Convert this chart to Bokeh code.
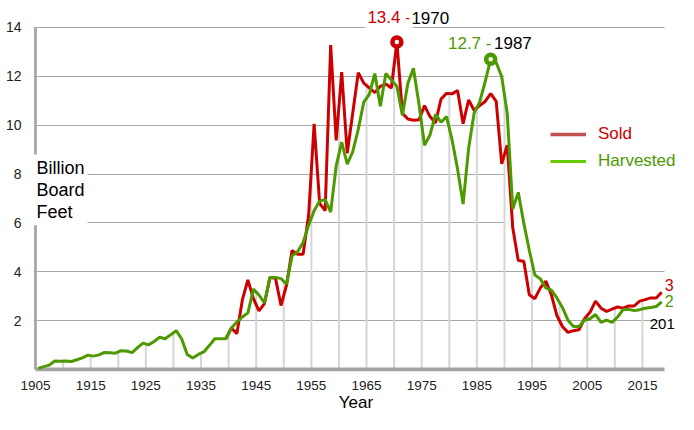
import numpy as np
from bokeh.plotting import figure
from bokeh.models import Range1d, FixedTicker, Label, Legend, LegendItem, BoxAnnotation
from bokeh.embed import file_html
from bokeh.resources import INLINE

# ---------------- data (billion board feet) ----------------
harvest_start = 1905
harvested = [
    0.05, 0.12, 0.18, 0.35, 0.34, 0.35, 0.33, 0.40, 0.48, 0.59,   # 1905-1914
    0.55, 0.60, 0.70, 0.69, 0.67, 0.77, 0.76, 0.69, 0.90, 1.08,   # 1915-1924
    1.01, 1.15, 1.32, 1.26, 1.42, 1.59, 1.25, 0.62, 0.47, 0.62,   # 1925-1934
    0.72, 0.98, 1.26, 1.26, 1.26, 1.70, 1.95, 2.15, 2.32, 3.29,   # 1935-1944
    3.05, 2.73, 3.77, 3.77, 3.72, 3.50, 4.65, 4.82, 5.20, 5.90,   # 1945-1954
    6.50, 6.90, 6.95, 6.44, 8.33, 9.31, 8.40, 8.92, 9.83, 10.94,  # 1955-1964
    11.26, 12.11, 10.77, 12.11, 11.85, 11.59, 10.41, 11.72, 12.33, 10.87,  # 1965-1974
    9.18, 9.60, 10.44, 10.12, 10.35, 9.40, 8.20, 6.77, 9.05, 10.50,  # 1975-1984
    10.94, 11.78, 12.70, 12.56, 11.98, 10.48, 6.57, 7.25, 5.99, 4.88,  # 1985-1994
    3.87, 3.71, 3.34, 3.25, 2.93, 2.54, 2.02, 1.76, 1.76, 2.02,   # 1995-2004
    2.08, 2.25, 1.93, 2.02, 1.93, 2.15, 2.45, 2.47, 2.41, 2.45,   # 2005-2014
    2.51, 2.54, 2.58, 2.77,                                       # 2015-2018
]
sold_start = 1939
sold = [
    1.26,                                                          # 1939
    1.70, 1.47, 2.86, 3.67, 2.90, 2.40, 2.70, 3.77, 3.73, 2.62,   # 1940-1949
    3.45, 4.87, 4.72, 4.72, 6.30, 10.05, 6.80, 6.50, 13.28, 9.38, # 1950-1959
    12.17, 8.85, 10.50, 12.15, 11.72, 11.52, 11.33, 11.59, 11.68, 11.52,  # 1960-1969
    13.40, 10.48, 10.25, 10.20, 10.22, 10.80, 10.35, 10.09, 11.07, 11.30,  # 1970-1979
    11.28, 11.42, 10.06, 11.03, 10.61, 10.80, 10.97, 11.29, 10.97, 8.42,  # 1980-1989
    9.18, 5.80, 4.46, 4.43, 3.06, 2.90, 3.34, 3.62, 3.06, 2.21,   # 1990-1999
    1.76, 1.52, 1.59, 1.63, 2.08, 2.34, 2.80, 2.51, 2.38, 2.47,   # 2000-2009
    2.56, 2.51, 2.60, 2.60, 2.80, 2.86, 2.93, 2.93, 3.16,         # 2010-2018
]
harvest_years = list(range(harvest_start, harvest_start + len(harvested)))
sold_years = list(range(sold_start, sold_start + len(sold)))

y_ticks = [2, 4, 6, 8, 10, 12, 14]
x_tick_labels = ["1905", "1915", "1925", "1935", "1945", "1955",
                 "1965", "1975", "1985", "1995", "2005", "2015"]
end_labels = {"sold": "3", "harvested": "2", "year": "201"}

# ---------------- style ----------------
RED = "#CC0000"
GREEN = "#4C9A00"
FONT = "Liberation Sans"

x0 = harvest_years[0] - 0.5      # category boundaries (Excel-like category axis)
x1 = harvest_years[-1] + 0.5
y_top = max(y_ticks)

XR = Range1d(x0 - 0.36, x1 + 2.54)
YR = Range1d(-0.08, y_top + 1.1)

p = figure(width=678, height=414, output_backend="svg", toolbar_location=None,
           x_range=XR, y_range=YR,
           min_border_left=33, min_border_right=0, min_border_top=0,
           min_border_bottom=40)
p.outline_line_color = None
p.background_fill_color = "white"
p.border_fill_color = "white"

# axes (axis lines drawn as segments so they stop at the data area)
xt = [int(s) - 0.5 for s in x_tick_labels]
p.xaxis.ticker = FixedTicker(ticks=xt)
p.xaxis.major_label_overrides = {t: s for t, s in zip(xt, x_tick_labels)}
p.yaxis.ticker = FixedTicker(ticks=y_ticks)
for ax in (p.xaxis[0], p.yaxis[0]):
    ax.axis_line_color = None
    ax.major_tick_line_color = None
    ax.minor_tick_line_color = None
    ax.major_label_text_font = FONT
    ax.major_label_text_font_size = "14px"
    ax.major_label_text_color = "#222222"
p.xaxis.major_label_text_font_size = "13.5px"
p.xaxis.major_label_standoff = 3
p.yaxis.major_label_standoff = 6
p.xaxis.axis_label = "Year"
p.xaxis.axis_label_text_font = FONT
p.xaxis.axis_label_text_font_size = "17px"
p.xaxis.axis_label_text_font_style = "normal"
p.xaxis.axis_label_text_color = "black"
p.xaxis.axis_label_standoff = 0

p.xgrid.visible = False
p.ygrid.ticker = FixedTicker(ticks=y_ticks)
p.ygrid.grid_line_color = "#A8A8A8"
p.ygrid.grid_line_width = 1.2

# white areas that hide grid lines: right of the data area and behind the legend
p.add_layout(BoxAnnotation(left=x1, right=XR.end, bottom=YR.start, top=YR.end,
                           fill_color="white", fill_alpha=1.0, line_color=None,
                           level="underlay"))
p.add_layout(BoxAnnotation(left=1989.5, right=XR.end, bottom=4.15, top=13.5,
                           fill_color="white", fill_alpha=1.0, line_color=None,
                           level="underlay"))

# drop lines at every 5th category boundary
hy = np.array(harvest_years, dtype=float)
sy = np.array(sold_years, dtype=float)
bounds = np.arange(x0 + 5.0, x1 - 1.0, 5.0)
tops = np.maximum(np.interp(bounds, hy, harvested, left=0, right=0),
                  np.interp(bounds, sy, sold, left=0, right=0))
p.segment(x0=bounds, y0=np.zeros_like(bounds), x1=bounds, y1=tops,
          line_color="#D6D6D6", line_width=2)

# axis lines
p.segment(x0=[x0], y0=[0], x1=[x0], y1=[y_top], line_color="#ABABAB", line_width=3)
p.segment(x0=[x0], y0=[0], x1=[x1], y1=[0], line_color="#A3A3A3", line_width=4)

# series
p.line(sold_years, sold, line_color=RED, line_width=3)
p.line(harvest_years, harvested, line_color=GREEN, line_width=3)

# peak markers
i_s = int(np.argmax(sold))
i_h = int(np.argmax(harvested))
p.scatter([sold_years[i_s]], [sold[i_s]], size=9, line_width=4.5,
          line_color=RED, fill_color="white")
p.scatter([harvest_years[i_h]], [harvested[i_h]], size=9, line_width=4.5,
          line_color=GREEN, fill_color="white")

def lab(x, y, text, color, xo, yo, size="17px", bg=None, align="left"):
    kw = dict(x=x, y=y, text=text, text_color=color, x_offset=xo, y_offset=yo,
              text_font=FONT, text_font_size=size, text_baseline="middle",
              text_align=align)
    if bg:
        kw.update(background_fill_color=bg, background_fill_alpha=1.0, padding=2)
    p.add_layout(Label(**kw))

lab(sold_years[i_s], sold[i_s], f"{sold[i_s]:.1f} -", RED, -31.5, 24.5, bg="white")
lab(sold_years[i_s], sold[i_s], f"{sold_years[i_s]}", "black", 12.5, 24.5, bg="white")
lab(harvest_years[i_h], harvested[i_h], f"{harvested[i_h]:.1f} -", GREEN, -42.7, 16)
lab(harvest_years[i_h], harvested[i_h], f"{harvest_years[i_h]}", "black", 3.3, 16)

# end-of-series labels (cut by the right edge in the original)
lab(sold_years[-1], sold[-1], end_labels["sold"], RED, 3.0, 7.0, size="16px")
lab(harvest_years[-1], harvested[-1], end_labels["harvested"], GREEN, 3.0, 1.0, size="16px")
lab(harvest_years[-1], harvested[-1], end_labels["year"], "black", -12.0, -22.5, size="15px")

# y-axis title (inside, with white background)
p.add_layout(Label(x=x0, y=7.35, text="Billion\nBoard\nFeet", x_offset=-2,
                   text_font=FONT, text_font_size="18px", text_color="black",
                   text_baseline="middle", text_align="left", text_line_height=1.12,
                   background_fill_color="white", background_fill_alpha=1.0,
                   padding=3))

# legend (two legends so that each label has its own colour)
dummy_s = p.line([np.nan], [np.nan], line_color="#C0504D", line_width=3.5)
dummy_h = p.line([np.nan], [np.nan], line_color="#66CC00", line_width=3)
for r, name, col, loc in ((dummy_s, "Sold", RED, (517, 227)),
                          (dummy_h, "Harvested", GREEN, (517, 200))):
    lg = Legend(items=[LegendItem(label=name, renderers=[r])], location=loc,
                label_text_color=col, label_text_font=FONT,
                label_text_font_size="17px", glyph_width=36, glyph_height=20,
                label_height=20, label_standoff=12, padding=0, margin=0,
                border_line_color=None, background_fill_alpha=0.0)
    p.add_layout(lg)

open("out.html", "w").write(file_html(p, INLINE))
